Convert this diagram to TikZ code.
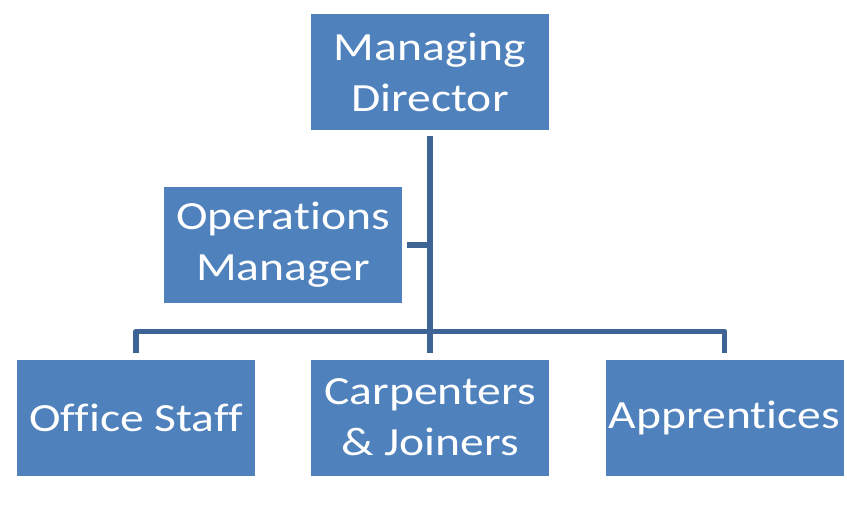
\documentclass[tikz,border=0pt]{standalone}
\usepackage{fontspec}
\setmainfont{Carlito}[Ligatures=NoCommon, FakeStretch=1.19]
\definecolor{boxblue}{RGB}{79,129,189}
\definecolor{lineblue}{RGB}{62,100,150}
\begin{document}
\begin{tikzpicture}[x=1pt,y=-1pt,
  orgbox/.style={fill=boxblue, draw=none, text=white, minimum width=238pt, minimum height=116pt, inner sep=0pt, align=center, font=\fontsize{40}{51}\selectfont},
  conn/.style={draw=lineblue, line width=5.5pt}]
\useasboundingbox (0,0) rectangle (847,514);
\node[orgbox] (md) at (430,72) {Managing\\Director};
\node[orgbox] (om) at (283,244.5) {Operations\\Manager};
\node[orgbox] (os) at (136,417.5) {Office Staff};
\node[orgbox] (cj) at (430,417.5) {Carpenters\\\& Joiners};
\node[orgbox] (ap) at (724.5,417.5) {Apprentices};
\coordinate (jo) at (430,245);
\draw[conn] ([yshift=-6pt]md.south) -- ([yshift=6pt]cj.north);
\draw[conn] ([xshift=5pt]om.east |- jo) -- (jo);
\draw[conn, line join=round] ([yshift=6pt]os.north) -- ++(0,-22) -| ([yshift=6pt]ap.north);
\end{tikzpicture}
\end{document}
